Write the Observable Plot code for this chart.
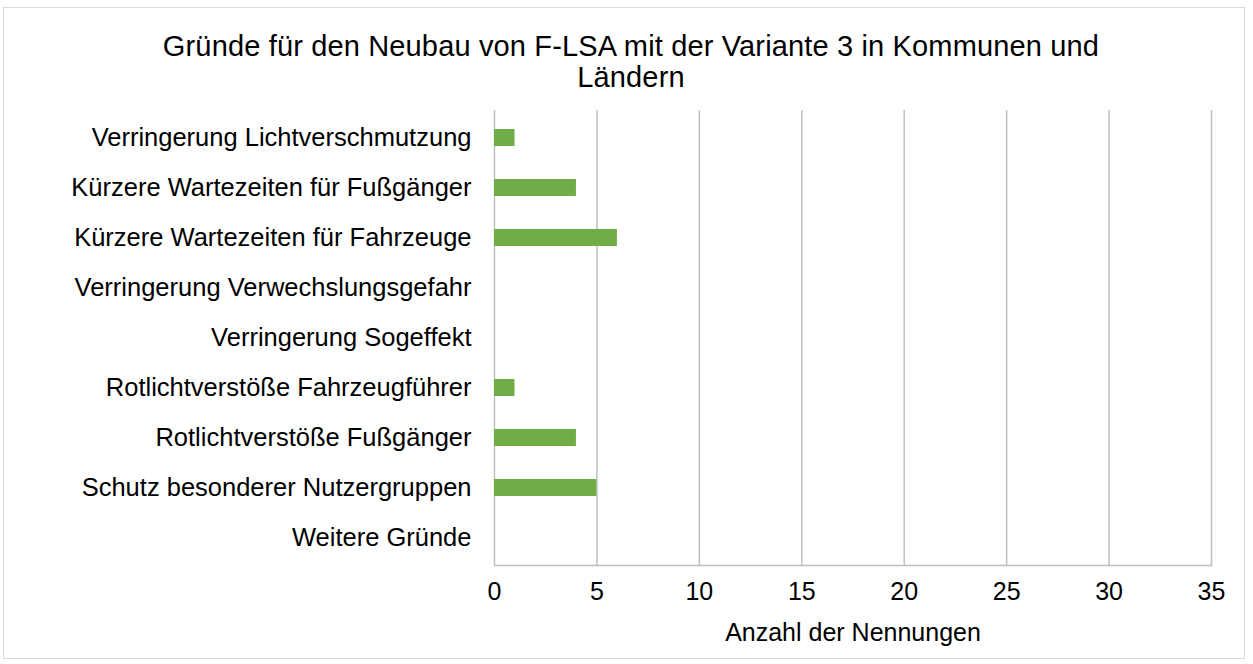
<!DOCTYPE html>
<html><head><meta charset="utf-8">
<script src="https://cdn.jsdelivr.net/npm/d3@7"></script>
<script src="https://cdn.jsdelivr.net/npm/@observablehq/plot@0.6"></script>
<style>
body{margin:0;background:#fff;font-family:"Liberation Sans",Arial,sans-serif;}
#wrap{position:relative;width:1253px;height:664px;overflow:hidden;}
#frame{position:absolute;left:3px;top:7px;width:1242px;height:652px;border:1px solid #d9d9d9;box-sizing:border-box;}
#title{position:absolute;left:131px;width:1000px;top:31px;text-align:center;font-size:29px;line-height:31px;color:#000;letter-spacing:0.15px;}
#chart{position:absolute;left:0;top:0;}
</style></head><body>
<div id="wrap"><div id="frame"></div><div id="title">Gründe für den Neubau von F-LSA mit der Variante 3 in Kommunen und<br>Ländern</div><div id="chart"></div></div>
<script>
const categories = [
  "Verringerung Lichtverschmutzung",
  "Kürzere Wartezeiten für Fußgänger",
  "Kürzere Wartezeiten für Fahrzeuge",
  "Verringerung Verwechslungsgefahr",
  "Verringerung Sogeffekt",
  "Rotlichtverstöße Fahrzeugführer",
  "Rotlichtverstöße Fußgänger",
  "Schutz besonderer Nutzergruppen",
  "Weitere Gründe"
];
const values = [1, 4, 6, 0, 0, 1, 4, 5, 0];
const xTicks = [0, 5, 10, 15, 20, 25, 30, 35];
const xLabel = "Anzahl der Nennungen";
const data = categories.map((c, i) => ({category: c, value: values[i]}));

const chart = Plot.plot({
  width: 1253,
  height: 664,
  marginTop: 110,
  marginBottom: 99,
  marginLeft: 494,
  marginRight: 42,
  style: {fontFamily: "'Liberation Sans', Arial, sans-serif", background: "transparent", color: "#000"},
  x: {domain: [0, 35], ticks: xTicks},
  y: {domain: categories, paddingInner: 0.66, paddingOuter: 0.33},
  marks: [
    Plot.ruleX(xTicks, {stroke: "#bfbfbf", strokeWidth: 1.5}),
    Plot.barX(data, {y: "category", x: "value", fill: "#70ad47"}),
    Plot.axisX({ticks: xTicks, tickSize: 0, tickPadding: 17, fontSize: 25, label: null}),
    Plot.axisY({tickSize: 0, tickPadding: 23, fontSize: 25.5, label: null}),
    Plot.text([xLabel], {frameAnchor: "bottom", lineAnchor: "middle", dy: 67, fontSize: 25, text: d => d, fill: "#000"}),
    Plot.frame({anchor: "bottom", stroke: "#bfbfbf", strokeWidth: 1.5})
  ]
});
document.getElementById("chart").appendChild(chart);
</script>
</body></html>
